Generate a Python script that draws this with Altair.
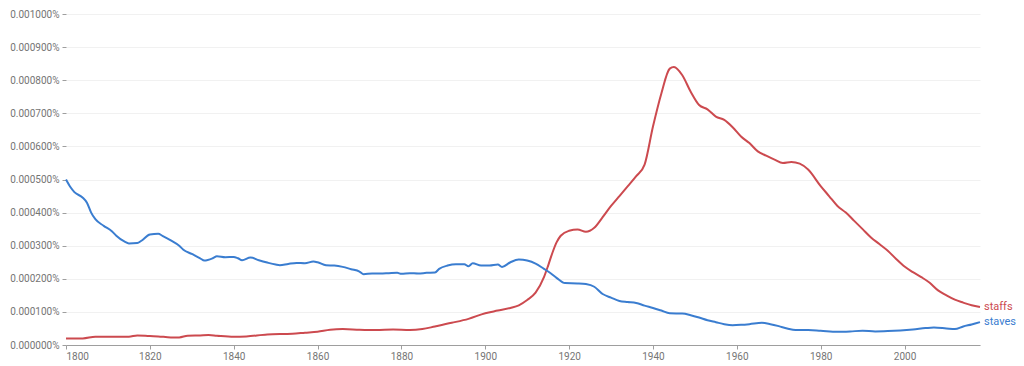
import altair as alt
import pandas as pd

# values in units of 1e-6 percent (e.g. 500 -> 0.000500%)
staves_years = [1800, 1801, 1802, 1804, 1805, 1806, 1807, 1809, 1811, 1812, 1814, 1815, 1817, 1818,
                1820, 1822, 1823, 1825, 1827, 1828, 1830, 1832, 1833, 1835, 1836, 1838, 1840, 1841,
                1842, 1844, 1846, 1848, 1850, 1851, 1853, 1855, 1857, 1859, 1860, 1862, 1864, 1866,
                1868, 1870, 1871, 1873, 1875, 1877, 1879, 1880, 1882, 1884, 1886, 1888, 1889, 1891,
                1893, 1895, 1896, 1897, 1899, 1901, 1903, 1904, 1906, 1908, 1910, 1912, 1914, 1915,
                1917, 1919, 1922, 1924, 1926, 1928, 1930, 1932, 1934, 1936, 1938, 1940, 1942, 1944,
                1947, 1949, 1951, 1953, 1955, 1957, 1959, 1961, 1963, 1966, 1968, 1970, 1972, 1974,
                1977, 1980, 1984, 1987, 1990, 1993, 1996, 1999, 2002, 2005, 2007, 2010, 2012, 2014,
                2016, 2018]
staves_values = [500, 478, 462, 445, 430, 400, 380, 360, 343, 330, 312, 307, 308, 315,
                 334, 336, 330, 316, 300, 288, 275, 262, 255, 262, 268, 265, 266, 262,
                 256, 264, 256, 249, 243, 241, 245, 248, 247, 252, 250, 241, 240, 236,
                 229, 222, 214, 216, 216, 217, 218, 215, 217, 216, 218, 219, 230, 240,
                 244, 244, 238, 247, 240, 240, 243, 236, 250, 258, 255, 246, 230, 222,
                 203, 187, 186, 184, 176, 154, 143, 133, 130, 127, 119, 112, 104, 96,
                 95, 90, 83, 75, 69, 63, 60, 61, 63, 67, 63, 57, 50, 45,
                 45, 43, 40, 41, 43, 41, 42, 44, 47, 51, 53, 50, 48, 56,
                 62, 69]

staffs_years = [1800, 1804, 1807, 1815, 1817, 1820, 1822, 1825, 1827, 1829, 1832, 1834, 1836, 1840,
                1843, 1848, 1854, 1857, 1860, 1863, 1866, 1870, 1874, 1878, 1882, 1885, 1888, 1892,
                1896, 1900, 1903, 1906, 1908, 1910, 1912, 1914, 1915, 1916, 1917, 1918, 1920, 1922,
                1924, 1926, 1928, 1930, 1932, 1934, 1936, 1938, 1940, 1942, 1944, 1945, 1947, 1949,
                1951, 1953, 1955, 1957, 1959, 1961, 1963, 1965, 1967, 1969, 1971, 1973, 1975, 1977,
                1980, 1982, 1984, 1986, 1988, 1990, 1992, 1994, 1996, 1998, 2000, 2002, 2004, 2006,
                2008, 2010, 2012, 2014, 2016, 2018]
staffs_values = [20, 20, 25, 25, 29, 27, 26, 23, 23, 28, 29, 30, 28, 25,
                 26, 32, 34, 37, 40, 46, 48, 46, 45, 47, 45, 48, 56, 67,
                 79, 96, 104, 112, 120, 136, 158, 205, 240, 278, 310, 330, 345, 349,
                 342, 354, 386, 420, 450, 480, 510, 545, 660, 760, 835, 840, 815, 765,
                 725, 712, 690, 680, 658, 630, 610, 585, 572, 560, 550, 553, 548, 530,
                 480, 450, 420, 400, 375, 350, 325, 305, 285, 260, 237, 220, 205, 188,
                 165, 150, 137, 128, 120, 115]

series_names = ["staffs", "staves"]
series_colors = ["#cc4a4f", "#3a7dd0"]
x_ticks = [1800, 1820, 1840, 1860, 1880, 1900, 1920, 1940, 1960, 1980, 2000]
y_ticks = [0, 100, 200, 300, 400, 500, 600, 700, 800, 900, 1000]

df = pd.concat([
    pd.DataFrame({"year": staffs_years, "v": staffs_values, "term": "staffs"}),
    pd.DataFrame({"year": staves_years, "v": staves_values, "term": "staves"}),
])
labels = pd.DataFrame({
    "year": [staffs_years[-1], staves_years[-1]],
    "v": [staffs_values[-1], staves_values[-1]],
    "term": series_names,
})

color = alt.Color("term:N", scale=alt.Scale(domain=series_names, range=series_colors), legend=None)

x = alt.X("year:Q", scale=alt.Scale(domain=[1800, 2018], nice=False, zero=False),
          axis=alt.Axis(values=x_ticks, format="d", title=None, grid=False, domain=True,
                        domainColor="#9e9e9e", tickColor="#9e9e9e", tickSize=4,
                        labelColor="#757575", labelFontSize=10, labelFont="Roboto",
                        labelPadding=2, labelOverlap=False))
y = alt.Y("v:Q", scale=alt.Scale(domain=[0, 1000], nice=False),
          axis=alt.Axis(values=y_ticks, title=None, domain=False, grid=True,
                        gridColor="#f1f1f1", tickColor="#9e9e9e", tickSize=4,
                        labelColor="#757575", labelFontSize=10, labelFont="Roboto",
                        labelPadding=3, labelOverlap=False,
                        labelExpr="format(datum.value / 1000000, '.6f') + '%'"))

lines = alt.Chart(df).mark_line(strokeWidth=2, interpolate="monotone").encode(
    x=x, y=y, color=color, detail="term:N")

text = alt.Chart(labels).mark_text(align="left", baseline="middle", dx=4, fontSize=11,
                                   font="Roboto").encode(
    x=x, y=y, text="term:N", color=color)

chart = alt.layer(lines, text).properties(
    width=914, height=331,
    autosize=alt.AutoSizeParams(type="none"),
    padding={"left": 58, "top": 6, "right": 36, "bottom": 20},
).configure_view(stroke=None)

chart.save("out.html", embed_options={"renderer": "svg", "actions": False})
